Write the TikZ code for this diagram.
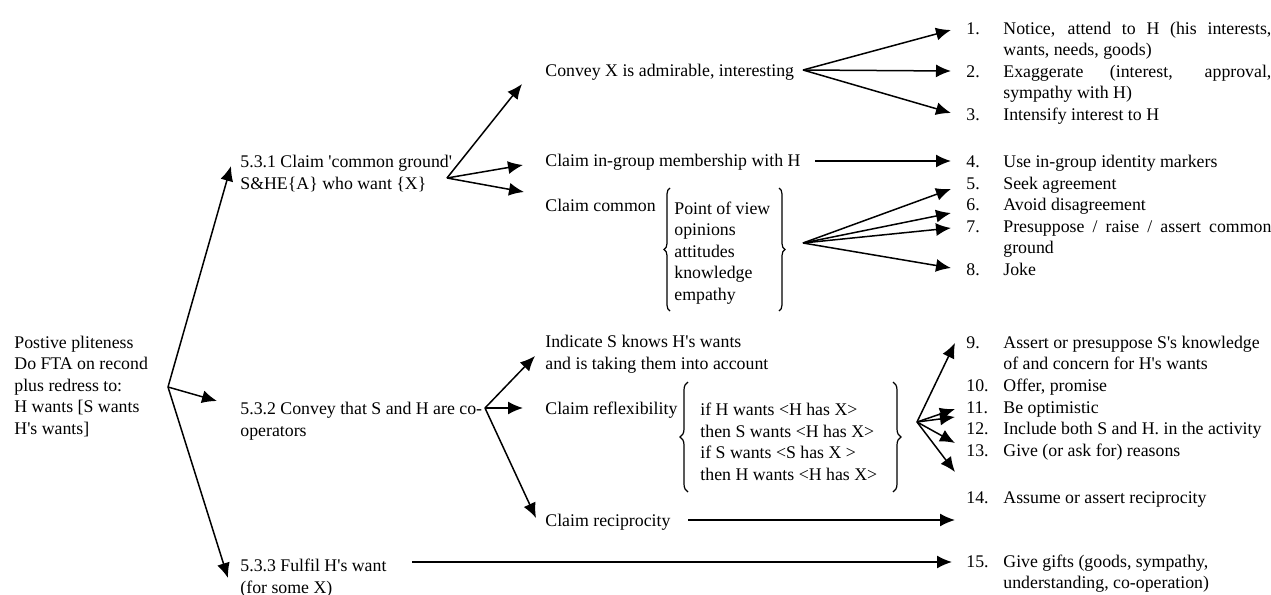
\documentclass[tikz,border=0pt]{standalone}
\usepackage{fontspec}
\setmainfont{Liberation Serif}
\usetikzlibrary{arrows.meta,decorations.pathreplacing}
\newcommand{\aps}{\textquotesingle}
\begin{document}
\begin{tikzpicture}[x=0.5pt,y=-0.5pt,
        font=\fontsize{8.9}{10.75}\selectfont,
        txt/.style={anchor=base west,inner sep=0pt,align=left},
        num/.style={anchor=base west,inner sep=0pt},
        item/.style={anchor=base west,inner sep=0pt,text width=134pt,align=justify},
        arr/.style={-{Latex[length=7.5pt,width=6.5pt]},line width=0.75pt},
        brc/.style={decorate,decoration={brace,amplitude=#1},line width=0.6pt},
        brc/.default=3pt,
        ]
    \useasboundingbox (0,0) rectangle (1271,595);
    % left part (multi-line nodes sit on their last line)
    \node (pp) [txt] at (14,434) {Postive pliteness\\Do FTA on recond\\plus redress to:\\H wants [S wants\\H\aps s wants]};
    \node (s531) [txt] at (240,189) {5.3.1 Claim \aps common ground\aps\\S\&HE\{A\} who want \{X\}};
    \node (s532) [txt] at (240,436) {5.3.2 Convey that S and H are co-\\operators};
    \node (s533) [txt] at (240,593) {5.3.3 Fulfil H\aps s want\\(for some X)};
    % middle part
    \node (cadm) [txt] at (545,76) {Convey X is admirable, interesting};
    \node (cgrp) [txt] at (545,166) {Claim in-group membership with H};
    \node (ccom) [txt] at (545,211) {Claim common};
    \node (clist) [txt] at (674,300) {Point of view\\opinions\\attitudes\\knowledge\\empathy};
    \node (ind) [txt] at (545,369) {Indicate S knows H\aps s wants\\and is taking them into account};
    \node (crefl) [txt] at (545,414) {Claim reflexibility};
    \node (rlist) [txt] at (700,480) {if H wants <H has X>\\then S wants <H has X>\\if S wants <S has X >\\then H wants <H has X>};
    \node (crec) [txt] at (545,526) {Claim reciprocity};
    % braces
    \draw[brc] (670,311) -- (670,188);
    \draw[brc] (779,188) -- (779,311);
    \draw[brc=4pt] (688,492) -- (688,382);
    \draw[brc=4pt] (893,382) -- (893,492);
    % right part: strategies
    \foreach \n/\y in {1/34,2/77,3/120,4/167,5/189,6/210,7/232,8/275,
                       9/348,10/391,11/413,12/434,13/456,14/503,15/567}
        \node (n\n) [num] at (966,\y) {\n.};
    \node (i1) [item] at (1003,34) {Notice, attend to H (his interests,\linebreak wants, needs, goods)};
    \node (i2) [item] at (1003,77) {Exaggerate (interest, approval,\linebreak sympathy with H)};
    \node (i3) [item] at (1003,120) {Intensify interest to H};
    \node (i4) [item] at (1003,167) {Use in-group identity markers};
    \node (i5) [item] at (1003,189) {Seek agreement};
    \node (i6) [item] at (1003,210) {Avoid disagreement};
    \node (i7) [item] at (1003,232) {Presuppose / raise / assert common\linebreak ground};
    \node (i8) [item] at (1003,275) {Joke};
    \node (i9) [item] at (1003,348) {Assert or presuppose S\aps s knowledge\newline of and concern for H\aps s wants};
    \node (i10) [item] at (1003,391) {Offer, promise};
    \node (i11) [item] at (1003,413) {Be optimistic};
    \node (i12) [item] at (1003,434) {Include both S and H. in the activity};
    \node (i13) [item] at (1003,456) {Give (or ask for) reasons};
    \node (i14) [item] at (1003,503) {Assume or assert reciprocity};
    \node (i15) [item] at (1003,567) {Give gifts (goods, sympathy,\newline understanding, co-operation)};
    % branch points and arrow ends
    \coordinate (rb) at (168,387);
    \coordinate (t531) at (231,166);
    \coordinate (t532) at (217,401);
    \coordinate (t533) at (228,578);
    \coordinate (b1) at (447,178);
    \coordinate (tadm) at (522,84);
    \coordinate (tgrp) at (523,165);
    \coordinate (tcom) at (524,192);
    \coordinate (cvb) at (803,70);
    \coordinate (t1) at (951,30);
    \coordinate (t2) at (951,71);
    \coordinate (t3) at (951,113);
    \coordinate (g4) at (815,161);
    \coordinate (t4) at (951,161);
    \coordinate (cmb) at (803,243);
    \coordinate (t5) at (951,189);
    \coordinate (t6) at (951,213);
    \coordinate (t7) at (951,228);
    \coordinate (t8) at (951,268);
    \coordinate (b2) at (485,408);
    \coordinate (tind) at (535,356);
    \coordinate (trefl) at (523,408);
    \coordinate (trec) at (536,518);
    \coordinate (rfb) at (917,422);
    \coordinate (t9) at (955,343);
    \coordinate (t11) at (955,409);
    \coordinate (t12) at (955,417);
    \coordinate (t13) at (955,443);
    \coordinate (t13b) at (955,472);
    \coordinate (g14) at (688,520);
    \coordinate (t14) at (955,520);
    \coordinate (g15) at (412,562);
    \coordinate (t15) at (952,562);
    % arrows
    \draw[arr] (rb) -- (t531);
    \draw[arr] (rb) -- (t532);
    \draw[arr] (rb) -- (t533);
    \draw[arr] (b1) -- (tadm);
    \draw[arr] (b1) -- (tgrp);
    \draw[arr] (b1) -- (tcom);
    \draw[arr] (cvb) -- (t1);
    \draw[arr] (cvb) -- (t2);
    \draw[arr] (cvb) -- (t3);
    \draw[arr] (g4) -- (t4);
    \draw[arr] (cmb) -- (t5);
    \draw[arr] (cmb) -- (t6);
    \draw[arr] (cmb) -- (t7);
    \draw[arr] (cmb) -- (t8);
    \draw[arr] (b2) -- (tind);
    \draw[arr] (b2) -- (trefl);
    \draw[arr] (b2) -- (trec);
    \draw[arr] (rfb) -- (t9);
    \draw[arr] (rfb) -- (t11);
    \draw[arr] (rfb) -- (t12);
    \draw[arr] (rfb) -- (t13);
    \draw[arr] (rfb) -- (t13b);
    \draw[arr] (g14) -- (t14);
    \draw[arr] (g15) -- (t15);
\end{tikzpicture}
\end{document}
